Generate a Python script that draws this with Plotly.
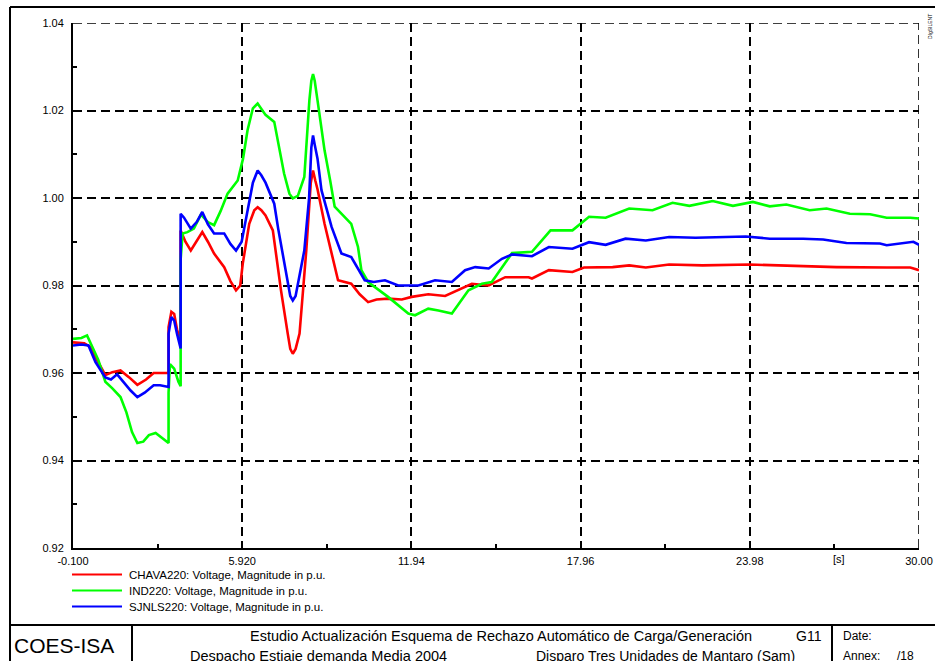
import plotly.graph_objects as go

# ---------------- data ----------------
t_chava = [-0.1, 0.3, 0.5, 0.8, 1.05, 1.3, 1.59, 1.9, 2.19, 2.5, 2.77, 3.3, 3.3, 3.4, 3.5, 3.6, 3.73,
           3.73, 3.9, 4.09, 4.3, 4.5, 4.7, 4.92, 5.28, 5.5, 5.7, 5.85, 5.94, 6.17, 6.35, 6.47, 6.6,
           6.75, 7.01, 7.3, 7.54, 7.63, 7.72, 7.82, 7.96, 8.2, 8.36, 8.44, 8.52, 8.6, 8.85, 9.1,
           9.33, 9.8, 10.1, 10.4, 10.7, 11.1, 11.6, 11.95, 12.54, 13.14, 13.61, 14.09, 14.69, 15.28,
           16.11, 16.23, 16.83, 17.67, 18.08, 19.1, 19.69, 20.28, 21.11, 22.3, 23.97, 25.28, 27.06,
           28.85, 29.69, 30.0]
v_chava = [0.967, 0.9668, 0.966, 0.9625, 0.9595, 0.9602, 0.9606, 0.959, 0.9573, 0.9585, 0.960, 0.960,
           0.9705, 0.974, 0.9735, 0.970, 0.967,
           0.9926, 0.990, 0.988, 0.990, 0.9922, 0.990, 0.9873, 0.9842, 0.981, 0.9789, 0.980, 0.985,
           0.9941, 0.9972, 0.9979, 0.9972, 0.996, 0.9926, 0.9789, 0.969, 0.9655, 0.9644, 0.9655,
           0.969, 0.988, 1.0035, 1.0063, 1.004, 1.002, 0.9941, 0.987, 0.9812, 0.9804, 0.978, 0.9762,
           0.9768, 0.977, 0.9768, 0.9774, 0.978, 0.9776, 0.9789, 0.9804, 0.980, 0.9819, 0.9819,
           0.9816, 0.9835, 0.9831, 0.9841, 0.9842, 0.9846, 0.9841, 0.9848, 0.9846, 0.9848, 0.9846,
           0.9842, 0.9841, 0.9841, 0.9835]

t_ind = [-0.1, 0.2, 0.4, 0.55, 0.8, 1.05, 1.3, 1.59, 1.8, 2.0, 2.19, 2.4, 2.6, 2.84, 3.0, 3.3,
         3.3, 3.35, 3.5, 3.65, 3.73, 3.73, 3.8, 3.97, 4.2, 4.45, 4.7, 4.92, 5.15, 5.4, 5.76, 5.95,
         6.11, 6.3, 6.47, 6.6, 6.75, 7.06, 7.25, 7.41, 7.6, 7.72, 7.9, 8.13, 8.31, 8.38, 8.44, 8.5,
         8.6, 8.85, 9.05, 9.21, 9.8, 10.04, 10.16, 10.4, 11.11, 11.83, 12.07, 12.54, 12.9, 13.38,
         13.97, 14.45, 14.8, 15.27, 15.52, 16.23, 16.89, 17.67, 18.26, 18.85, 19.69, 20.52, 21.23,
         21.83, 22.66, 23.38, 24.09, 24.69, 25.28, 26.11, 26.71, 27.54, 28.26, 28.85, 29.69, 30.0]
v_ind = [0.9678, 0.968, 0.9686, 0.9665, 0.963, 0.958, 0.9565, 0.9545, 0.951, 0.9465, 0.944, 0.9443,
         0.9458, 0.9463, 0.9455, 0.944,
         0.9555, 0.962, 0.961, 0.958, 0.957, 0.986, 0.9919, 0.9922, 0.993, 0.9962, 0.9945, 0.9938,
         0.997, 1.001, 1.004, 1.009, 1.0155, 1.0205, 1.0216, 1.0205, 1.019, 1.0174, 1.011, 1.0056,
         1.001, 0.9999, 1.0005, 1.0048, 1.0223, 1.0268, 1.0283, 1.0268, 1.0223, 1.0109, 1.004,
         0.998, 0.9941, 0.9888, 0.9835, 0.9808, 0.9774, 0.9736, 0.9732, 0.9747, 0.9743, 0.9736,
         0.9789, 0.9804, 0.9808, 0.985, 0.9874, 0.9877, 0.9926, 0.9926, 0.9957, 0.9955, 0.9976,
         0.9972, 0.9989, 0.9982, 0.9993, 0.9982, 0.9991, 0.9981, 0.9985, 0.9972, 0.9976, 0.9964,
         0.9963, 0.9955, 0.9955, 0.9953]

t_sjnls = [-0.1, 0.2, 0.45, 0.7, 1.05, 1.25, 1.47, 1.7, 1.95, 2.19, 2.45, 2.77, 3.0, 3.3,
           3.3, 3.4, 3.5, 3.6, 3.73, 3.73, 3.85, 4.09, 4.3, 4.5, 4.7, 4.92, 5.28, 5.5, 5.7, 5.9,
           6.11, 6.3, 6.47, 6.6, 6.75, 7.06, 7.2, 7.41, 7.63, 7.72, 7.82, 8.13, 8.3, 8.38, 8.44,
           8.5, 8.6, 8.74, 9.1, 9.45, 9.8, 10.28, 10.6, 11.0, 11.47, 12.19, 12.78, 13.38, 13.85,
           14.21, 14.69, 15.16, 15.52, 16.23, 16.83, 17.67, 18.26, 18.85, 19.56, 20.28, 21.11,
           22.05, 23.84, 24.69, 25.88, 26.59, 27.42, 28.61, 28.85, 29.8, 30.0]
v_sjnls = [0.9663, 0.9665, 0.9663, 0.9625, 0.959, 0.9585, 0.9597, 0.958, 0.956, 0.9545, 0.9555,
           0.9572, 0.9572, 0.9568,
           0.969, 0.9728, 0.972, 0.969, 0.9656, 0.9964, 0.9955, 0.993, 0.9945, 0.9968, 0.994,
           0.9919, 0.9919, 0.9895, 0.988, 0.990, 0.9972, 1.0035, 1.0063, 1.0052, 1.0035, 0.9987,
           0.993, 0.985, 0.9776, 0.9766, 0.9776, 0.988, 1.0, 1.0115, 1.0143, 1.0122, 1.009, 1.0018,
           0.9934, 0.9873, 0.9865, 0.9812, 0.9808, 0.9812, 0.980, 0.980, 0.9812, 0.9808, 0.9835,
           0.9842, 0.9839, 0.9861, 0.9871, 0.9867, 0.9888, 0.9884, 0.9899, 0.9893, 0.9907, 0.9903,
           0.9911, 0.9909, 0.9912, 0.9907, 0.9907, 0.9905, 0.9897, 0.9896, 0.9892, 0.99, 0.9893]

series_names = ["CHAVA220: Voltage, Magnitude in p.u.",
                "IND220: Voltage, Magnitude in p.u.",
                "SJNLS220: Voltage, Magnitude in p.u."]
series_colors = ["#ff0000", "#00ff00", "#0000ff"]

x_tickvals = [-0.1, 5.92, 11.94, 17.96, 23.98, 30.0]
x_ticktext = ["-0.100", "5.920", "11.94", "17.96", "23.98", "30.00"]
x_unit = "[s]"
y_tickvals = [0.92, 0.94, 0.96, 0.98, 1.00, 1.02, 1.04]
y_ticktext = ["0.92", "0.94", "0.96", "0.98", "1.00", "1.02", "1.04"]
x_range = [-0.1, 30.0]
y_range = [0.92, 1.04]

# ---------------- layout geometry (pixels) ----------------
W, H = 935, 661
ML, MR, MT, MB = 73, 16, 23, 113
PW, PH = W - ML - MR, H - MT - MB


def px(x):
    return (x - ML) / PW


def py(y):
    return (H - MB - y) / PH


FONT = "Liberation Sans, Arial, sans-serif"
GRID_DASH = "9px,5px"
GRID_W = 1.6

fig = go.Figure()
for t, v, name, col in zip([t_chava, t_ind, t_sjnls], [v_chava, v_ind, v_sjnls],
                           series_names, series_colors):
    fig.add_trace(go.Scatter(x=t, y=v, mode="lines", name=name,
                             line=dict(color=col, width=2.6), showlegend=False))

shapes = []
annotations = []

# grid lines at the far ends of the axes (plotly clips those at range ends)
shapes.append(dict(type="line", xref="x domain", yref="y", x0=0, x1=1,
                   y0=y_range[1], y1=y_range[1], layer="below",
                   line=dict(color="black", width=GRID_W, dash=GRID_DASH)))
shapes.append(dict(type="line", xref="x", yref="y domain", x0=x_range[1], x1=x_range[1],
                   y0=0, y1=1, layer="below",
                   line=dict(color="black", width=GRID_W, dash=GRID_DASH)))

# legend (manual, matching the reference's long line samples)
for i, (name, col) in enumerate(zip(series_names, series_colors)):
    yy = 574.5 + 16 * i
    shapes.append(dict(type="line", xref="paper", yref="paper",
                       x0=px(72), x1=px(122), y0=py(yy), y1=py(yy),
                       line=dict(color=col, width=2)))
    annotations.append(dict(xref="paper", yref="paper", x=px(127), y=py(yy),
                            xanchor="left", yanchor="middle", showarrow=False,
                            text=name, font=dict(size=11.5, color="black", family=FONT)))

# axis unit label
annotations.append(dict(xref="paper", yref="paper", x=px(839), y=py(559),
                        xanchor="center", yanchor="middle", showarrow=False,
                        text=x_unit, font=dict(size=11, color="black", family=FONT)))

# frame / title block
frame_lines = [
    (10, 7, 935, 7, 2),
    (10, 7, 10, 661, 2),
    (10, 625, 935, 625, 2),
    (132, 625, 132, 661, 2),
    (832, 625, 832, 661, 2),
]
for x0, y0, x1, y1, w in frame_lines:
    shapes.append(dict(type="line", xref="paper", yref="paper",
                       x0=px(x0), x1=px(x1), y0=py(y0), y1=py(y1),
                       line=dict(color="black", width=w)))

title_texts = [
    ("COES-ISA", 12, 645, "left", 21),
    ("Estudio Actualización Esquema de Rechazo Automático de Carga/Generación", 248, 636, "left", 14.5),
    ("G11", 824, 636, "right", 14),
    ("Despacho Estiaje demanda Media 2004", 188, 656, "left", 14.5),
    ("Disparo Tres Unidades de Mantaro (Sam)", 534, 656, "left", 14),
    ("Date:", 841, 636, "left", 12),
    ("Annex:", 841, 656, "left", 12),
    ("/18", 895, 656, "left", 12),
]
for txt, x, y, anc, sz in title_texts:
    annotations.append(dict(xref="paper", yref="paper", x=px(x), y=py(y),
                            xanchor=anc, yanchor="middle", showarrow=False,
                            text=txt, font=dict(size=sz, color="black", family=FONT)))

annotations.append(dict(xref="paper", yref="paper", x=px(930), y=py(27),
                        xanchor="center", yanchor="middle", showarrow=False,
                        text="DIgSILENT", textangle=-90,
                        font=dict(size=5, color="black", family=FONT)))

fig.update_layout(
    width=W, height=H,
    margin=dict(l=ML, r=MR, t=MT, b=MB, pad=0, autoexpand=False),
    paper_bgcolor="white", plot_bgcolor="white",
    font=dict(family=FONT, size=11, color="black"),
    shapes=shapes, annotations=annotations,
    showlegend=False,
)
fig.update_xaxes(
    range=x_range, tickmode="array", tickvals=x_tickvals, ticktext=x_ticktext,
    showline=True, linecolor="black", linewidth=2, mirror=False, automargin=False,
    showgrid=True, gridcolor="black", gridwidth=GRID_W, griddash=GRID_DASH,
    ticks="inside", ticklen=6, tickwidth=2, tickcolor="black",
    tickfont=dict(size=11, color="black", family=FONT), ticklabelstandoff=2,
    minor=dict(tickmode="linear", tick0=-0.1, dtick=3.01, ticks="inside", ticklen=4,
               tickwidth=1.5, tickcolor="black", showgrid=False),
    zeroline=False, fixedrange=True,
)
fig.update_yaxes(
    range=y_range, tickmode="array", tickvals=y_tickvals, ticktext=y_ticktext,
    showline=True, linecolor="black", linewidth=2, mirror=False, automargin=False,
    showgrid=True, gridcolor="black", gridwidth=GRID_W, griddash=GRID_DASH,
    ticks="inside", ticklen=6, tickwidth=2, tickcolor="black",
    tickfont=dict(size=11, color="black", family=FONT), ticklabelstandoff=5,
    minor=dict(tickmode="linear", tick0=0.92, dtick=0.01, ticks="inside", ticklen=4,
               tickwidth=1.5, tickcolor="black", showgrid=False),
    zeroline=False, fixedrange=True,
)

fig.write_html("out.html", config={"displayModeBar": False},
               post_script="document.body.style.margin='0px';document.body.style.overflow='hidden';")
